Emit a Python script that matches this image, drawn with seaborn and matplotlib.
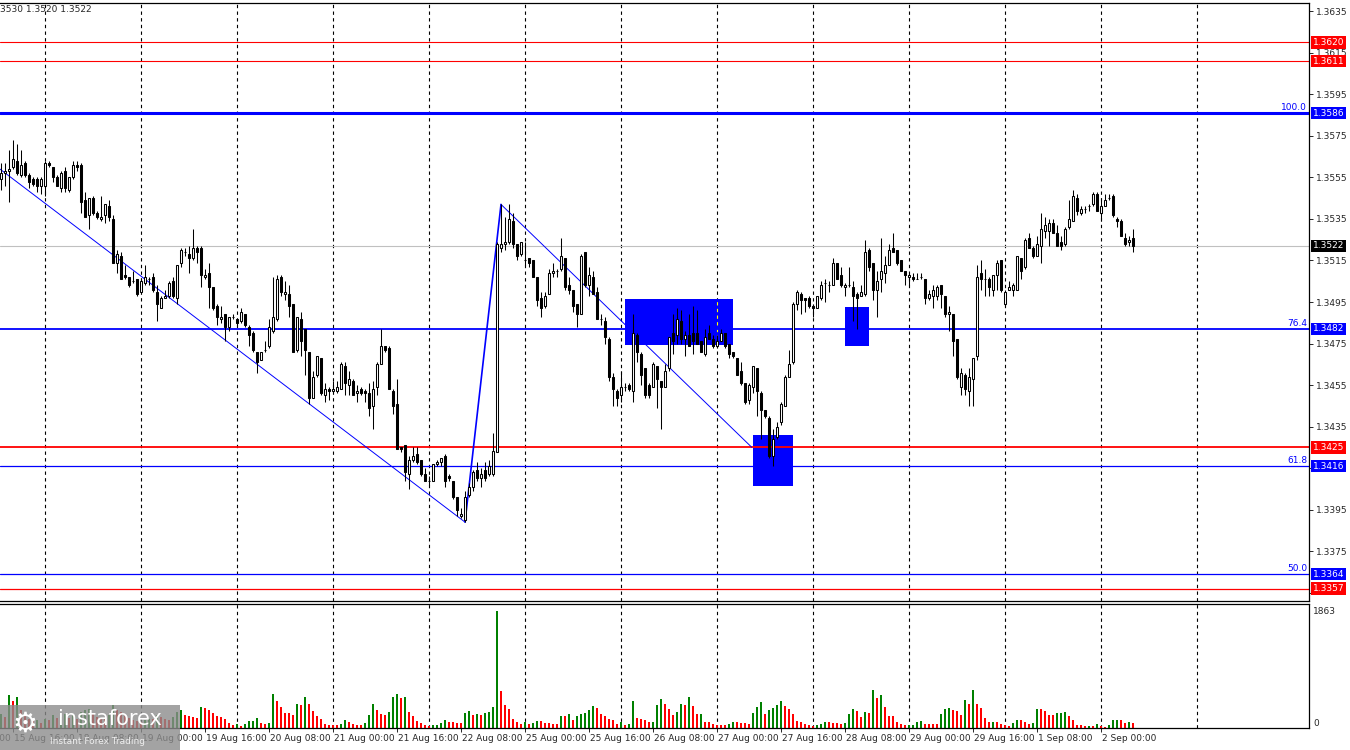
import numpy as np
import pandas as pd
import matplotlib
matplotlib.use("Agg")
import matplotlib.pyplot as plt
import matplotlib.transforms as mtransforms
from matplotlib.patches import Rectangle
import seaborn as sns

# hourly candles, bar 0 = 15 Aug 13:00
opens = [
    1.3554, 1.3557, 1.3558, 1.3560, 1.3563, 1.3556, 1.3562, 1.3556, 1.3554, 1.3554,
    1.3551, 1.3551, 1.3562, 1.3560, 1.3555, 1.3550, 1.3558, 1.3549, 1.3555, 1.3561,
    1.3561, 1.3544, 1.3537, 1.3545, 1.3538, 1.3535, 1.3537, 1.3541, 1.3535, 1.3514,
    1.3517, 1.3508, 1.3507, 1.3505, 1.3506, 1.3500, 1.3504, 1.3506, 1.3507, 1.3500,
    1.3492, 1.3497, 1.3498, 1.3505, 1.3497, 1.3514, 1.3519, 1.3518, 1.3516, 1.3521,
    1.3521, 1.3507, 1.3509, 1.3502, 1.3493, 1.3487, 1.3489, 1.3483, 1.3488, 1.3487,
    1.3486, 1.3489, 1.3483, 1.3480, 1.3471, 1.3467, 1.3472, 1.3474, 1.3481, 1.3487,
    1.3507, 1.3499, 1.3499, 1.3494, 1.3472, 1.3487, 1.3482, 1.3471, 1.3449, 1.3460,
    1.3468, 1.3450, 1.3453, 1.3452, 1.3452, 1.3453, 1.3464, 1.3455, 1.3457, 1.3451,
    1.3453, 1.3452, 1.3451, 1.3445, 1.3454, 1.3465, 1.3474, 1.3473, 1.3452, 1.3446,
    1.3425, 1.3426, 1.3412, 1.3419, 1.3422, 1.3419, 1.3412, 1.3409, 1.3409, 1.3417,
    1.3418, 1.3421, 1.3411, 1.3409, 1.3401, 1.3392, 1.3390, 1.3402, 1.3406, 1.3414,
    1.3410, 1.3414, 1.3412, 1.3412, 1.3423, 1.3521, 1.3523, 1.3524, 1.3534, 1.3523,
    1.3518, 1.3515, 1.3516, 1.3515, 1.3507, 1.3497, 1.3493, 1.3499, 1.3509, 1.3510,
    1.3511, 1.3516, 1.3503, 1.3501, 1.3494, 1.3489, 1.3519, 1.3503, 1.3507, 1.3500,
    1.3487, 1.3486, 1.3477, 1.3459, 1.3452, 1.3450, 1.3454, 1.3455, 1.3452, 1.3479,
    1.3470, 1.3463, 1.3455, 1.3454, 1.3464, 1.3457, 1.3454, 1.3463, 1.3480, 1.3479,
    1.3486, 1.3477, 1.3479, 1.3480, 1.3480, 1.3476, 1.3470, 1.3480, 1.3477, 1.3474,
    1.3476, 1.3480, 1.3475, 1.3471, 1.3468, 1.3462, 1.3456, 1.3448, 1.3454, 1.3463,
    1.3451, 1.3443, 1.3439, 1.3421, 1.3430, 1.3437, 1.3445, 1.3459, 1.3466, 1.3494,
    1.3499, 1.3497, 1.3497, 1.3493, 1.3492, 1.3497, 1.3504, 1.3503, 1.3503, 1.3514,
    1.3508, 1.3502, 1.3503, 1.3502, 1.3499, 1.3498, 1.3499, 1.3520, 1.3514, 1.3501,
    1.3506, 1.3509, 1.3513, 1.3521, 1.3520, 1.3515, 1.3510, 1.3507, 1.3507, 1.3506,
    1.3507, 1.3506, 1.3497, 1.3498, 1.3498, 1.3503, 1.3498, 1.3489, 1.3489, 1.3477,
    1.3454, 1.3460, 1.3452, 1.3458, 1.3469, 1.3509, 1.3506, 1.3506, 1.3501, 1.3508,
    1.3515, 1.3494, 1.3501, 1.3501, 1.3501, 1.3516, 1.3512, 1.3526, 1.3521, 1.3517,
    1.3522, 1.3529, 1.3529, 1.3533, 1.3528, 1.3524, 1.3523, 1.3531, 1.3534, 1.3545,
    1.3538, 1.3540, 1.3541, 1.3542, 1.3547, 1.3538, 1.3541, 1.3545, 1.3546, 1.3535,
    1.3534, 1.3526, 1.3524, 1.3526,
]
highs = [
    1.3562, 1.3562, 1.3568, 1.3573, 1.3571, 1.3568, 1.3563, 1.3557, 1.3555, 1.3555,
    1.3555, 1.3563, 1.3563, 1.3560, 1.3556, 1.3558, 1.3560, 1.3555, 1.3563, 1.3563,
    1.3562, 1.3548, 1.3545, 1.3546, 1.3539, 1.3546, 1.3542, 1.3544, 1.3537, 1.3520,
    1.3519, 1.3513, 1.3507, 1.3510, 1.3506, 1.3506, 1.3513, 1.3507, 1.3509, 1.3503,
    1.3498, 1.3501, 1.3505, 1.3507, 1.3513, 1.3521, 1.3521, 1.3522, 1.3530, 1.3522,
    1.3522, 1.3511, 1.3514, 1.3502, 1.3494, 1.3493, 1.3489, 1.3488, 1.3489, 1.3487,
    1.3492, 1.3489, 1.3484, 1.3481, 1.3471, 1.3471, 1.3476, 1.3487, 1.3507, 1.3508,
    1.3508, 1.3505, 1.3503, 1.3494, 1.3488, 1.3490, 1.3482, 1.3471, 1.3462, 1.3469,
    1.3468, 1.3456, 1.3454, 1.3457, 1.3457, 1.3466, 1.3466, 1.3462, 1.3458, 1.3455,
    1.3454, 1.3453, 1.3456, 1.3457, 1.3466, 1.3482, 1.3474, 1.3474, 1.3453, 1.3458,
    1.3425, 1.3426, 1.3421, 1.3425, 1.3425, 1.3419, 1.3415, 1.3411, 1.3417, 1.3419,
    1.3420, 1.3422, 1.3412, 1.3409, 1.3401, 1.3396, 1.3404, 1.3408, 1.3414, 1.3418,
    1.3415, 1.3418, 1.3419, 1.3432, 1.3524, 1.3542, 1.3536, 1.3542, 1.3538, 1.3523,
    1.3524, 1.3524, 1.3516, 1.3515, 1.3507, 1.3500, 1.3500, 1.3511, 1.3514, 1.3511,
    1.3526, 1.3516, 1.3507, 1.3501, 1.3494, 1.3518, 1.3519, 1.3512, 1.3510, 1.3502,
    1.3489, 1.3488, 1.3478, 1.3461, 1.3453, 1.3462, 1.3456, 1.3456, 1.3489, 1.3480,
    1.3471, 1.3463, 1.3456, 1.3466, 1.3464, 1.3457, 1.3465, 1.3478, 1.3489, 1.3492,
    1.3491, 1.3481, 1.3489, 1.3493, 1.3491, 1.3476, 1.3482, 1.3484, 1.3479, 1.3479,
    1.3482, 1.3480, 1.3475, 1.3471, 1.3468, 1.3466, 1.3456, 1.3456, 1.3464, 1.3463,
    1.3452, 1.3443, 1.3440, 1.3434, 1.3437, 1.3447, 1.3460, 1.3472, 1.3495, 1.3501,
    1.3500, 1.3497, 1.3498, 1.3494, 1.3498, 1.3505, 1.3506, 1.3505, 1.3516, 1.3514,
    1.3512, 1.3504, 1.3512, 1.3505, 1.3500, 1.3503, 1.3525, 1.3521, 1.3514, 1.3510,
    1.3526, 1.3517, 1.3523, 1.3528, 1.3520, 1.3515, 1.3510, 1.3509, 1.3509, 1.3509,
    1.3509, 1.3506, 1.3501, 1.3503, 1.3503, 1.3503, 1.3498, 1.3493, 1.3489, 1.3477,
    1.3463, 1.3461, 1.3463, 1.3468, 1.3513, 1.3515, 1.3511, 1.3507, 1.3508, 1.3515,
    1.3515, 1.3501, 1.3505, 1.3504, 1.3517, 1.3516, 1.3526, 1.3528, 1.3522, 1.3527,
    1.3538, 1.3536, 1.3535, 1.3535, 1.3532, 1.3527, 1.3531, 1.3544, 1.3549, 1.3547,
    1.3541, 1.3541, 1.3542, 1.3548, 1.3548, 1.3545, 1.3547, 1.3547, 1.3547, 1.3536,
    1.3535, 1.3528, 1.3527, 1.3530,
]
lows = [
    1.3549, 1.3551, 1.3543, 1.3559, 1.3556, 1.3555, 1.3555, 1.3550, 1.3551, 1.3548,
    1.3547, 1.3546, 1.3560, 1.3553, 1.3551, 1.3548, 1.3548, 1.3548, 1.3554, 1.3558,
    1.3538, 1.3536, 1.3530, 1.3537, 1.3535, 1.3534, 1.3533, 1.3534, 1.3514, 1.3509,
    1.3506, 1.3506, 1.3502, 1.3504, 1.3498, 1.3500, 1.3503, 1.3503, 1.3500, 1.3486,
    1.3492, 1.3497, 1.3497, 1.3497, 1.3494, 1.3512, 1.3517, 1.3509, 1.3515, 1.3514,
    1.3502, 1.3506, 1.3492, 1.3491, 1.3484, 1.3485, 1.3476, 1.3481, 1.3487, 1.3483,
    1.3485, 1.3483, 1.3474, 1.3471, 1.3461, 1.3467, 1.3471, 1.3473, 1.3480, 1.3486,
    1.3498, 1.3496, 1.3488, 1.3471, 1.3471, 1.3469, 1.3460, 1.3446, 1.3449, 1.3459,
    1.3450, 1.3447, 1.3448, 1.3452, 1.3451, 1.3453, 1.3450, 1.3450, 1.3450, 1.3447,
    1.3450, 1.3447, 1.3440, 1.3434, 1.3450, 1.3465, 1.3471, 1.3453, 1.3441, 1.3424,
    1.3423, 1.3409, 1.3405, 1.3418, 1.3417, 1.3411, 1.3409, 1.3407, 1.3409, 1.3416,
    1.3416, 1.3406, 1.3409, 1.3400, 1.3392, 1.3391, 1.3389, 1.3401, 1.3404, 1.3409,
    1.3406, 1.3409, 1.3411, 1.3411, 1.3423, 1.3519, 1.3520, 1.3523, 1.3521, 1.3515,
    1.3517, 1.3513, 1.3512, 1.3507, 1.3493, 1.3488, 1.3492, 1.3499, 1.3507, 1.3507,
    1.3510, 1.3501, 1.3499, 1.3490, 1.3483, 1.3489, 1.3502, 1.3498, 1.3499, 1.3487,
    1.3484, 1.3475, 1.3457, 1.3445, 1.3445, 1.3447, 1.3452, 1.3452, 1.3447, 1.3466,
    1.3455, 1.3449, 1.3449, 1.3454, 1.3444, 1.3434, 1.3454, 1.3462, 1.3470, 1.3475,
    1.3475, 1.3469, 1.3474, 1.3470, 1.3475, 1.3471, 1.3469, 1.3477, 1.3473, 1.3473,
    1.3476, 1.3473, 1.3468, 1.3468, 1.3460, 1.3455, 1.3446, 1.3446, 1.3451, 1.3440,
    1.3429, 1.3439, 1.3420, 1.3416, 1.3429, 1.3436, 1.3445, 1.3459, 1.3465, 1.3491,
    1.3489, 1.3490, 1.3492, 1.3488, 1.3492, 1.3496, 1.3495, 1.3500, 1.3503, 1.3506,
    1.3502, 1.3498, 1.3502, 1.3486, 1.3482, 1.3498, 1.3498, 1.3510, 1.3496, 1.3488,
    1.3500, 1.3504, 1.3513, 1.3519, 1.3513, 1.3510, 1.3503, 1.3503, 1.3505, 1.3506,
    1.3506, 1.3494, 1.3496, 1.3492, 1.3496, 1.3492, 1.3488, 1.3481, 1.3469, 1.3458,
    1.3450, 1.3450, 1.3445, 1.3445, 1.3467, 1.3501, 1.3498, 1.3498, 1.3498, 1.3501,
    1.3500, 1.3493, 1.3501, 1.3498, 1.3501, 1.3506, 1.3511, 1.3521, 1.3516, 1.3517,
    1.3514, 1.3526, 1.3522, 1.3528, 1.3522, 1.3520, 1.3522, 1.3530, 1.3534, 1.3537,
    1.3537, 1.3538, 1.3539, 1.3541, 1.3539, 1.3534, 1.3541, 1.3544, 1.3536, 1.3531,
    1.3527, 1.3522, 1.3522, 1.3519,
]
closes = [
    1.3557, 1.3558, 1.3559, 1.3564, 1.3557, 1.3561, 1.3556, 1.3553, 1.3552, 1.3551,
    1.3554, 1.3562, 1.3561, 1.3555, 1.3551, 1.3557, 1.3550, 1.3555, 1.3561, 1.3560,
    1.3543, 1.3536, 1.3545, 1.3538, 1.3536, 1.3536, 1.3542, 1.3536, 1.3514, 1.3518,
    1.3506, 1.3507, 1.3503, 1.3505, 1.3499, 1.3505, 1.3507, 1.3506, 1.3501, 1.3494,
    1.3497, 1.3498, 1.3504, 1.3498, 1.3513, 1.3520, 1.3519, 1.3516, 1.3521, 1.3519,
    1.3508, 1.3508, 1.3502, 1.3492, 1.3488, 1.3488, 1.3483, 1.3488, 1.3488, 1.3485,
    1.3490, 1.3484, 1.3479, 1.3472, 1.3466, 1.3471, 1.3472, 1.3483, 1.3488, 1.3506,
    1.3500, 1.3500, 1.3493, 1.3471, 1.3488, 1.3476, 1.3472, 1.3449, 1.3459, 1.3469,
    1.3451, 1.3453, 1.3452, 1.3453, 1.3454, 1.3465, 1.3456, 1.3458, 1.3450, 1.3452,
    1.3451, 1.3451, 1.3444, 1.3453, 1.3465, 1.3474, 1.3472, 1.3453, 1.3445, 1.3424,
    1.3424, 1.3413, 1.3419, 1.3421, 1.3418, 1.3412, 1.3409, 1.3409, 1.3417, 1.3418,
    1.3420, 1.3409, 1.3410, 1.3401, 1.3395, 1.3393, 1.3401, 1.3406, 1.3413, 1.3410,
    1.3412, 1.3410, 1.3416, 1.3423, 1.3523, 1.3523, 1.3524, 1.3535, 1.3523, 1.3517,
    1.3524, 1.3515, 1.3514, 1.3507, 1.3496, 1.3492, 1.3498, 1.3509, 1.3510, 1.3510,
    1.3517, 1.3502, 1.3501, 1.3493, 1.3489, 1.3517, 1.3503, 1.3508, 1.3499, 1.3487,
    1.3487, 1.3478, 1.3459, 1.3453, 1.3449, 1.3454, 1.3454, 1.3453, 1.3480, 1.3471,
    1.3460, 1.3450, 1.3450, 1.3465, 1.3458, 1.3454, 1.3462, 1.3478, 1.3476, 1.3487,
    1.3477, 1.3479, 1.3474, 1.3476, 1.3475, 1.3471, 1.3478, 1.3477, 1.3474, 1.3476,
    1.3480, 1.3474, 1.3470, 1.3469, 1.3460, 1.3456, 1.3447, 1.3455, 1.3464, 1.3452,
    1.3443, 1.3440, 1.3421, 1.3429, 1.3435, 1.3446, 1.3459, 1.3465, 1.3494, 1.3500,
    1.3496, 1.3496, 1.3493, 1.3492, 1.3498, 1.3503, 1.3504, 1.3503, 1.3514, 1.3506,
    1.3503, 1.3503, 1.3503, 1.3498, 1.3497, 1.3500, 1.3519, 1.3512, 1.3501, 1.3505,
    1.3510, 1.3513, 1.3520, 1.3519, 1.3514, 1.3510, 1.3508, 1.3508, 1.3506, 1.3506,
    1.3507, 1.3497, 1.3499, 1.3501, 1.3502, 1.3499, 1.3489, 1.3490, 1.3476, 1.3459,
    1.3461, 1.3453, 1.3459, 1.3468, 1.3507, 1.3506, 1.3506, 1.3502, 1.3508, 1.3514,
    1.3501, 1.3500, 1.3502, 1.3503, 1.3517, 1.3510, 1.3525, 1.3521, 1.3517, 1.3523,
    1.3530, 1.3532, 1.3533, 1.3528, 1.3522, 1.3522, 1.3530, 1.3535, 1.3546, 1.3539,
    1.3540, 1.3540, 1.3541, 1.3547, 1.3539, 1.3541, 1.3544, 1.3545, 1.3537, 1.3534,
    1.3527, 1.3523, 1.3525, 1.3522,
]
volumes = [
    229, 176, 521, 431, 495, 280, 200, 150, 120, 130,
    80, 150, 120, 200, 160, 180, 220, 160, 200, 150,
    250, 290, 300, 220, 180, 160, 150, 200, 360, 280,
    250, 190, 160, 130, 110, 90, 120, 150, 140, 200,
    180, 150, 120, 180, 260, 282, 213, 192, 170, 165,
    330, 325, 293, 245, 186, 180, 138, 85, 53, 58,
    27, 58, 106, 112, 160, 85, 69, 80, 537, 431,
    335, 239, 235, 202, 388, 362, 489, 378, 271, 186,
    138, 69, 53, 43, 40, 58, 122, 90, 69, 53,
    50, 85, 202, 378, 282, 218, 215, 250, 489, 537,
    479, 489, 250, 186, 112, 85, 43, 32, 43, 45,
    80, 122, 90, 88, 86, 74, 239, 271, 202, 218,
    205, 239, 250, 335, 1862, 585, 362, 298, 138, 96,
    69, 90, 69, 80, 106, 104, 85, 83, 69, 67,
    186, 184, 218, 122, 197, 218, 239, 282, 356, 314,
    218, 186, 149, 122, 69, 90, 43, 58, 426, 160,
    144, 122, 90, 92, 362, 458, 388, 298, 202, 255,
    388, 362, 489, 346, 218, 220, 90, 88, 69, 53,
    43, 40, 69, 101, 90, 80, 74, 58, 239, 330,
    410, 218, 282, 314, 362, 426, 346, 298, 229, 106,
    90, 69, 43, 37, 43, 69, 101, 90, 74, 72,
    69, 74, 218, 298, 266, 176, 250, 245, 601, 479,
    521, 335, 186, 184, 90, 58, 43, 45, 48, 90,
    112, 69, 67, 58, 56, 229, 298, 324, 293, 266,
    213, 452, 388, 601, 388, 314, 165, 90, 92, 88,
    69, 43, 32, 74, 122, 120, 90, 69, 72, 303,
    300, 266, 213, 202, 239, 242, 250, 186, 122, 43,
    40, 27, 32, 27, 58, 27, 21, 43, 122, 133,
    122, 80, 90, 80,
]

# time axis
day_starts = [11, 35, 59, 83, 107, 131, 155, 179, 203, 227, 251, 275, 299]
time_tick_pos = [-13, 3, 19, 35, 51, 67, 83, 99, 115, 131, 147, 163, 179,
                 195, 211, 227, 243, 259, 275]
time_tick_text = ["15 Aug 00:00", "15 Aug 16:00", "18 Aug 08:00", "19 Aug 00:00",
                  "19 Aug 16:00", "20 Aug 08:00", "21 Aug 00:00", "21 Aug 16:00",
                  "22 Aug 08:00", "25 Aug 00:00", "25 Aug 16:00", "26 Aug 08:00",
                  "27 Aug 00:00", "27 Aug 16:00", "28 Aug 08:00", "29 Aug 00:00",
                  "29 Aug 16:00", "1 Sep 08:00", "2 Sep 00:00"]
price_ticks = [1.3355, 1.3375, 1.3395, 1.3415, 1.3435, 1.3455, 1.3475, 1.3495,
               1.3515, 1.3535, 1.3555, 1.3575, 1.3595, 1.3615, 1.3635]
hidden_ticks = [1.3355, 1.3415]   # covered by the level labels

# drawn objects
level_prices = [1.3620, 1.3611, 1.3586, 1.3482, 1.3425, 1.3416, 1.3364, 1.3357]
level_kinds = ["res", "res", "fib", "fib", "res", "fib", "fib", "res"]
fib_prices = [1.3586, 1.3482, 1.3416, 1.3364]
fib_names = ["100.0", "76.4", "61.8", "50.0"]
current_price = 1.3522
zone_bars = [(155.9, 182.9), (187.9, 197.9), (211.0, 217.0)]
zone_prices = [(1.34741, 1.34965), (1.34066, 1.34311), (1.34736, 1.34924)]
trend_bars = [-0.25, 116, 125, 187.7]
trend_prices = [1.3559, 1.3389, 1.3542, 1.3425]
max_volume_label = 1863
header_text = "3530 1.3520 1.3522"

BLUE = "#0000ff"
RED = "#ff0000"
GREEN = "#008000"
kind_color = {"res": RED, "fib": BLUE}
level_lw = {1.3620: 0.8, 1.3611: 0.8, 1.3586: 2.2, 1.3482: 1.3,
            1.3425: 1.3, 1.3416: 0.9, 1.3364: 0.9, 1.3357: 0.9}

sns.set_style("white", {"axes.edgecolor": "black"})
plt.rcParams["font.family"] = ["DejaVu Sans"]

W, H = 1350, 750
fig = plt.figure(figsize=(W / 100, H / 100), dpi=100)
ax = fig.add_axes([0, 1 - 601 / H, 1309 / W, 598 / H])
axv = fig.add_axes([0, 1 - 728 / H, 1309 / W, 124 / H])
xlim = (-0.25, 327)

n = len(closes)
assert len(opens) == len(highs) == len(lows) == len(volumes) == n
idx = np.arange(n)
o, h, l, c = (np.array(a) for a in (opens, highs, lows, closes))

# grid (day boundaries)
for d in day_starts:
    for a in (ax, axv):
        a.axvline(d, color="black", lw=0.8, ls=(0, (3, 3)), zorder=0.5)

# zones
for (b0, b1), (p0, p1) in zip(zone_bars, zone_prices):
    ax.add_patch(Rectangle((b0, p0), b1 - b0, p1 - p0, fc=BLUE, ec="none", zorder=1))
# grid line shows yellow over the first zone
ax.plot([179, 179], list(zone_prices[0]), color="yellow", lw=0.8, ls=(0, (3, 3)), zorder=1.2)

# levels
ax.axhline(current_price, color="#c0c0c0", lw=0.8, zorder=1.5)
for p, k in zip(level_prices, level_kinds):
    ax.axhline(p, color=kind_color[k], lw=level_lw[p], zorder=2)

# trend lines
ax.plot(trend_bars[0:2], trend_prices[0:2], color=BLUE, lw=0.7, zorder=2)
ax.plot(trend_bars[1:3], trend_prices[1:3], color=BLUE, lw=1.2, zorder=2)
ax.plot(trend_bars[2:4], trend_prices[2:4], color=BLUE, lw=0.7, zorder=2)

# candles
up = c >= o
ax.vlines(idx, l, h, color="black", lw=0.75, zorder=3)
ax.bar(idx, np.abs(c - o), bottom=np.minimum(o, c), width=0.7,
       color=np.where(up, "white", "black"), edgecolor="black", linewidth=0.75, zorder=4)

ax.set_xticks([])
ax.set_yticks(price_ticks)
ax.set_yticklabels(["" if p in hidden_ticks else f"{p:.4f}" for p in price_ticks])
ax.tick_params(axis="y", left=False, labelleft=False, right=True, labelright=True,
               length=3, width=0.7, pad=2, labelsize=6.5, direction="out")
ax.set_xlim(xlim)
ax.set_ylim(1.33510, 1.36390)
ax.spines["left"].set_visible(False)
for s in ("top", "right", "bottom"):
    ax.spines[s].set_linewidth(0.9)

ytr = ax.get_yaxis_transform()
label_items = [(p, kind_color[k]) for p, k in zip(level_prices, level_kinds)]
label_items.append((current_price, "black"))
for p, col in label_items:
    ax.text(1 + 4 / 1309, p, f"{p:.4f}", transform=ytr, color="white", fontsize=6.5,
            ha="left", va="center", clip_on=False, zorder=10,
            bbox=dict(boxstyle="square,pad=0.2", fc=col, ec="none"))
for p, name in zip(fib_prices, fib_names):
    ax.annotate(name, xy=(1 - 2 / 1309, p), xycoords=ytr, xytext=(0, 1),
                textcoords="offset points", ha="right", va="bottom",
                color=BLUE, fontsize=6.5, zorder=10)

# volumes
vol_df = pd.DataFrame({"bar": idx, "volume": volumes})
vol_df["dir"] = np.where(vol_df["volume"].diff().fillna(1) > 0, "up", "down")
sns.barplot(data=vol_df, x="bar", y="volume", hue="dir",
            palette={"up": GREEN, "down": RED}, native_scale=True, dodge=False,
            width=0.7, saturation=1, errorbar=None, legend=False, linewidth=0, ax=axv)
axv.set_xlabel("")
axv.set_ylabel("")
axv.set_yticks([])
axv.set_xticks(time_tick_pos)
axv.set_xticklabels([])
axv.tick_params(axis="x", bottom=True, length=3, width=0.7, direction="out")
axv.set_xlim(xlim)
axv.set_ylim(0, 1975)
axv.spines["left"].set_visible(False)
for s in ("top", "right", "bottom"):
    axv.spines[s].set_linewidth(0.9)

vtr = axv.get_yaxis_transform()
axv.text(1 + 4 / 1309, max_volume_label, str(max_volume_label), transform=vtr,
         fontsize=6.5, ha="left", va="center", clip_on=False)
axv.text(1 + 4 / 1309, 0, "0", transform=vtr, fontsize=6.5, ha="left", va="bottom",
         clip_on=False)

xtr = mtransforms.blended_transform_factory(axv.transData, axv.transAxes)
for pos, txt in zip(time_tick_pos, time_tick_text):
    axv.text(pos + 0.3, -0.045, txt, transform=xtr, fontsize=6.5, ha="left", va="top",
             clip_on=False)

fig.text(0.0, 1 - 10 / H, header_text, fontsize=6.5, ha="left", va="center")

# watermark
fig.add_artist(Rectangle((0, 0), 180 / W, 45 / H, transform=fig.transFigure,
                         fc="#8c8c8c", ec="none", alpha=0.8, zorder=20))
fig.text(25 / W, 1 - 724 / H, "\u2699", fontsize=20, color="white", ha="center",
         va="center", zorder=21)
fig.text(110 / W, 1 - 719 / H, "instaforex", fontsize=15, color="white", ha="center",
         va="center", zorder=21)
fig.text(98 / W, 1 - 741 / H, "Instant Forex Trading", fontsize=6.5, color="#eeeeee",
         ha="center", va="center", zorder=21)

fig.savefig("out.png", dpi=100, facecolor="white")
